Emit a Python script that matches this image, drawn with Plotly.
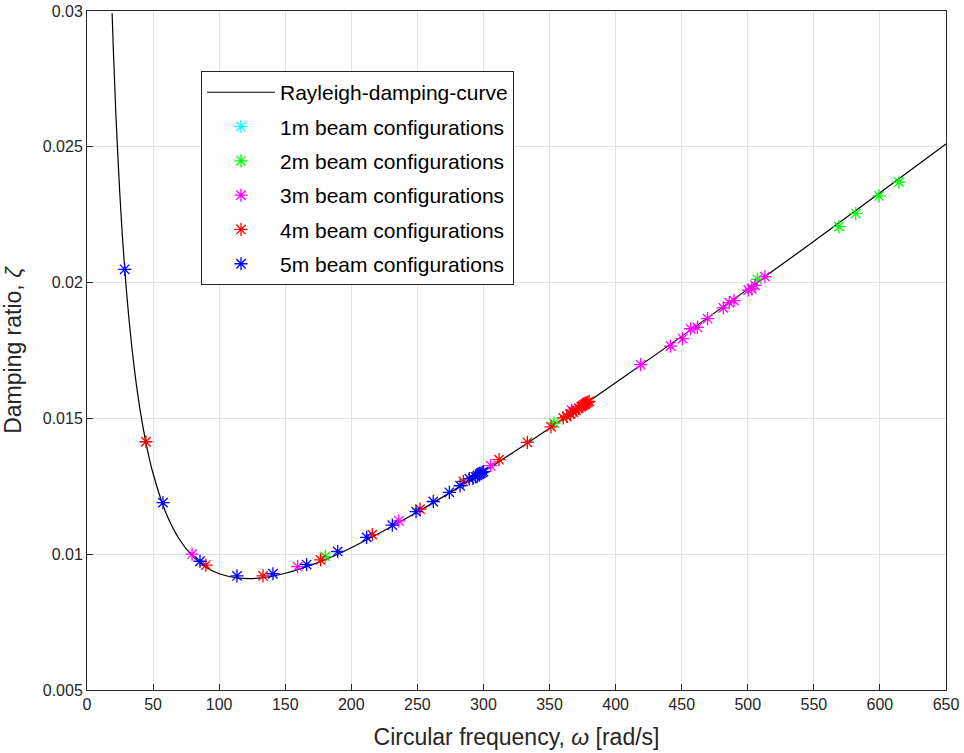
import plotly.graph_objects as go

# Rayleigh damping curve
curve_w = [19, 20, 22, 25, 28, 32, 36, 40, 45, 50, 60, 70, 80, 90, 100, 115, 130, 150,
           175, 200, 250, 300, 350, 400, 450, 500, 550, 600, 650]
curve_z = [0.02992, 0.02850, 0.02605, 0.02313, 0.02087, 0.01854, 0.01676, 0.01537, 0.01401,
           0.01297, 0.01149, 0.01054, 0.00992, 0.00952, 0.00928, 0.00912, 0.00912, 0.00930,
           0.00970, 0.01024, 0.01155, 0.01304, 0.01464, 0.01631, 0.01802, 0.01976, 0.02152,
           0.02331, 0.02510]

w_1m = []
z_1m = []

w_2m = [180.3, 353.4, 507.2, 569.0, 581.7, 599.3, 614.4]
z_2m = [0.00992, 0.01483, 0.02012, 0.02206, 0.02254, 0.02319, 0.02370]

w_3m = [79.5, 159.4, 236.0, 305.5, 366.7, 419.0, 441.6, 450.7, 456.8, 461.9, 469.6, 481.5,
        486.0, 489.6, 500.4, 503.0, 505.5, 513.0]
z_3m = [0.01000, 0.00954, 0.01123, 0.01326, 0.01530, 0.01698, 0.01766, 0.01794, 0.01830,
        0.01835, 0.01867, 0.01907, 0.01926, 0.01934, 0.01972, 0.01977, 0.01990, 0.02022]

w_4m = [44.6, 90.0, 133.2, 176.8, 215.9, 252.0, 284.8, 311.8, 333.2, 351.1, 360.4, 363, 366,
        368, 370, 372, 374, 375, 376, 377, 378, 379, 380]
z_4m = [0.01414, 0.00960, 0.00920, 0.00979, 0.01072, 0.01166, 0.01268, 0.01348, 0.01412,
        0.01469, 0.01502, 0.01507, 0.01517, 0.01523, 0.01530, 0.01537, 0.01543, 0.01547,
        0.01550, 0.01553, 0.01557, 0.01560, 0.01563]

w_5m = [28.5, 57.5, 85.5, 113.5, 140.7, 166.2, 189.7, 211.6, 231.0, 249.0, 262.0, 274.2,
        282.3, 289.3, 292, 294, 295.5, 297, 298, 299, 300]
z_5m = [0.02049, 0.01190, 0.00974, 0.00920, 0.00928, 0.00962, 0.01010, 0.01062, 0.01107,
        0.01157, 0.01194, 0.01228, 0.01252, 0.01278, 0.01279, 0.01285, 0.01290, 0.01295,
        0.01298, 0.01301, 0.01304]

x_ticks = list(range(0, 651, 50))
y_ticks = [0.005, 0.01, 0.015, 0.02, 0.025, 0.03]
y_tick_text = ["0.005", "0.01", "0.015", "0.02", "0.025", "0.03"]

series = [
    ("1m beam configurations", w_1m, z_1m, "#00ffff"),
    ("2m beam configurations", w_2m, z_2m, "#00ff00"),
    ("3m beam configurations", w_3m, z_3m, "#ff00ff"),
    ("4m beam configurations", w_4m, z_4m, "#ff0000"),
    ("5m beam configurations", w_5m, z_5m, "#0000ff"),
]

FONT = "Liberation Sans, Arial, Helvetica"

fig = go.Figure()
fig.add_trace(go.Scatter(x=curve_w, y=curve_z, mode="lines", name="Rayleigh-damping-curve",
                         line=dict(color="black", width=1.2, shape="spline", smoothing=1.0),
                         legendgroup="g0"))
for i, (name, xs, ys, col) in enumerate(series):
    fig.add_trace(go.Scatter(
        x=xs if xs else [None], y=ys if ys else [None], mode="markers", name=name,
        legendgroup=f"g{i+1}",
        marker=dict(symbol="asterisk-open", size=11, color=col,
                    line=dict(color=col, width=1.3))))

axis_common = dict(showline=True, mirror=True, linecolor="#262626", linewidth=1,
                   ticks="inside", ticklen=6, tickcolor="#262626",
                   showgrid=True, gridcolor="#e3e3e3", gridwidth=1, zeroline=False,
                   automargin=False,
                   tickfont=dict(family=FONT, size=16, color="#262626"))

fig.update_xaxes(range=[0, 650], tickvals=x_ticks,
                 title=dict(text="Circular frequency, <i>ω</i> [rad/s]",
                            font=dict(family=FONT, size=23, color="#262626"),
                            standoff=16),
                 **axis_common)
fig.update_yaxes(range=[0.005, 0.03], tickvals=y_ticks, ticktext=y_tick_text,
                 title=dict(text="Damping ratio, <i>ζ</i>",
                            font=dict(family=FONT, size=23, color="#262626"),
                            standoff=21),
                 **axis_common)

fig.update_layout(
    width=964, height=753,
    margin=dict(l=87, r=18, t=11, b=63, autoexpand=False),
    paper_bgcolor="white", plot_bgcolor="white",
    showlegend=True,
    legend=dict(x=0.1327, y=0.9115, xanchor="left", yanchor="top",
                bgcolor="white", bordercolor="#262626", borderwidth=1,
                font=dict(family=FONT, size=21, color="#000000"),
                tracegroupgap=4, itemwidth=68, traceorder="grouped"),
)

fig.write_html("out.html", config={"displayModeBar": False},
               post_script="document.body.style.margin='0';document.body.style.overflow='hidden';")
